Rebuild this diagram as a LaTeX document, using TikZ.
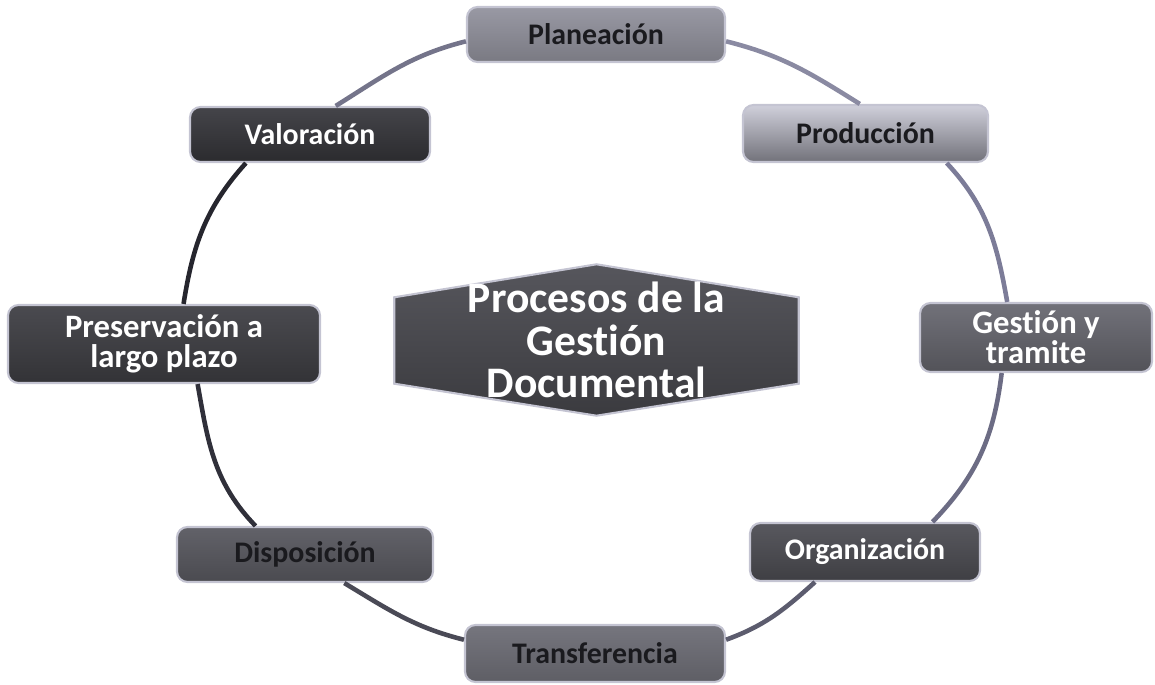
\documentclass[tikz,border=0pt]{standalone}
\usepackage{fontspec}
\setmainfont{Carlito}[Ligatures=NoCommon]
\usepackage{xcolor}
\usetikzlibrary{calc}
\pgfdeclarelayer{background}
\pgfsetlayers{background,main}
\definecolor{inkdark}{HTML}{1A1A1E}
\definecolor{haze}{HTML}{C4C4D2}
\definecolor{ringA}{HTML}{74748A}
\definecolor{ringB}{HTML}{8A8AA2}
\definecolor{ringC}{HTML}{7C7C98}
\definecolor{ringD}{HTML}{6C6C84}
\definecolor{ringE}{HTML}{5C5C6E}
\definecolor{ringF}{HTML}{4A4A56}
\definecolor{ringG}{HTML}{30303A}
\definecolor{ringH}{HTML}{26262E}
\tikzset{
    stage/.style={rectangle,rounded corners=3pt,draw=haze,line width=0.6pt,inner sep=2pt,align=center,font=\bfseries\fontsize{8.5}{8.5}\selectfont},
    lightstage/.style={stage,text=inkdark},
    darkstage/.style={stage,text=white},
    twoline/.style={font=\bfseries\fontsize{9.3}{8.6}\selectfont},
    hub/.style={inner sep=0pt,align=center,text=white,font=\bfseries\fontsize{12.4}{12.1}\selectfont},
    link/.style={line width=1.3pt},
}

\begin{document}
\begin{tikzpicture}
\useasboundingbox (0,0) rectangle (11.55,6.84);

\node[lightstage,top color=black!22!haze,bottom color=black!38!haze,minimum width=2.58cm,minimum height=0.55cm] (plan) at (5.96,6.495) {Planeación};
\node[lightstage,top color=haze!80!white,bottom color=black!42!haze,minimum width=2.45cm,minimum height=0.57cm] (prod) at (8.655,5.505) {Producción};
\node[darkstage,twoline,top color=black!42!haze,bottom color=black!58!haze,minimum width=2.32cm,minimum height=0.69cm] (gest) at (10.36,3.465) {Gest\kern0pt ión y\\tramite};
\node[darkstage,top color=black!55!haze,bottom color=black!68!haze,minimum width=2.30cm,minimum height=0.58cm] (org) at (8.65,1.32) {Organización};
\node[lightstage,top color=black!40!haze,bottom color=black!52!haze,minimum width=2.60cm,minimum height=0.57cm] (tran) at (5.95,0.305) {Transferencia};
\node[lightstage,top color=black!50!haze,bottom color=black!62!haze,minimum width=2.56cm,minimum height=0.55cm] (disp) at (3.05,1.295) {Disposición};
\node[darkstage,twoline,top color=black!62!haze,bottom color=black!74!haze,minimum width=3.12cm,minimum height=0.78cm] (pres) at (1.64,3.40) {Preservación a\\largo plazo};
\node[darkstage,top color=black!65!haze,bottom color=black!78!haze,minimum width=2.40cm,minimum height=0.55cm] (val) at (3.10,5.495) {Valoración};

% centre hexagon
\node[hub,minimum width=4.03cm,minimum height=1.50cm] (core) at (5.965,3.44) {Procesos de la\\Gest\kern0pt ión\\Documental};
\begin{pgfonlayer}{background}
\path[top color=black!56!haze,bottom color=black!70!haze,draw=haze,line width=0.6pt]
    (core.north) -- ($(core.north east)+(0,-0.33)$) -- ($(core.south east)+(0,0.32)$)
    -- (core.south) -- ($(core.south west)+(0,0.32)$) -- ($(core.north west)+(0,-0.33)$) -- cycle;
\end{pgfonlayer}

% ring
\draw[link,draw=ringA] (val.48) to[out=32,in=194] (plan.183);
\draw[link,draw=ringB] (plan.-3) to[out=-14,in=148] (prod.101);
\draw[link,draw=ringC] (prod.-20) to[out=-47,in=100] (gest.129);
\draw[link,draw=ringD] (gest.226) to[out=-97,in=46] (org.24);
\draw[link,draw=ringE] (org.211) to[out=222,in=20] (tran.6);
\draw[link,draw=ringF] (tran.174) to[out=166,in=-31] (disp.-36);
\draw[link,draw=ringG] (disp.150) to[out=134,in=-80] (pres.-50);
\draw[link,draw=ringH] (pres.64) to[out=81,in=228] (val.204);
\end{tikzpicture}
\end{document}
